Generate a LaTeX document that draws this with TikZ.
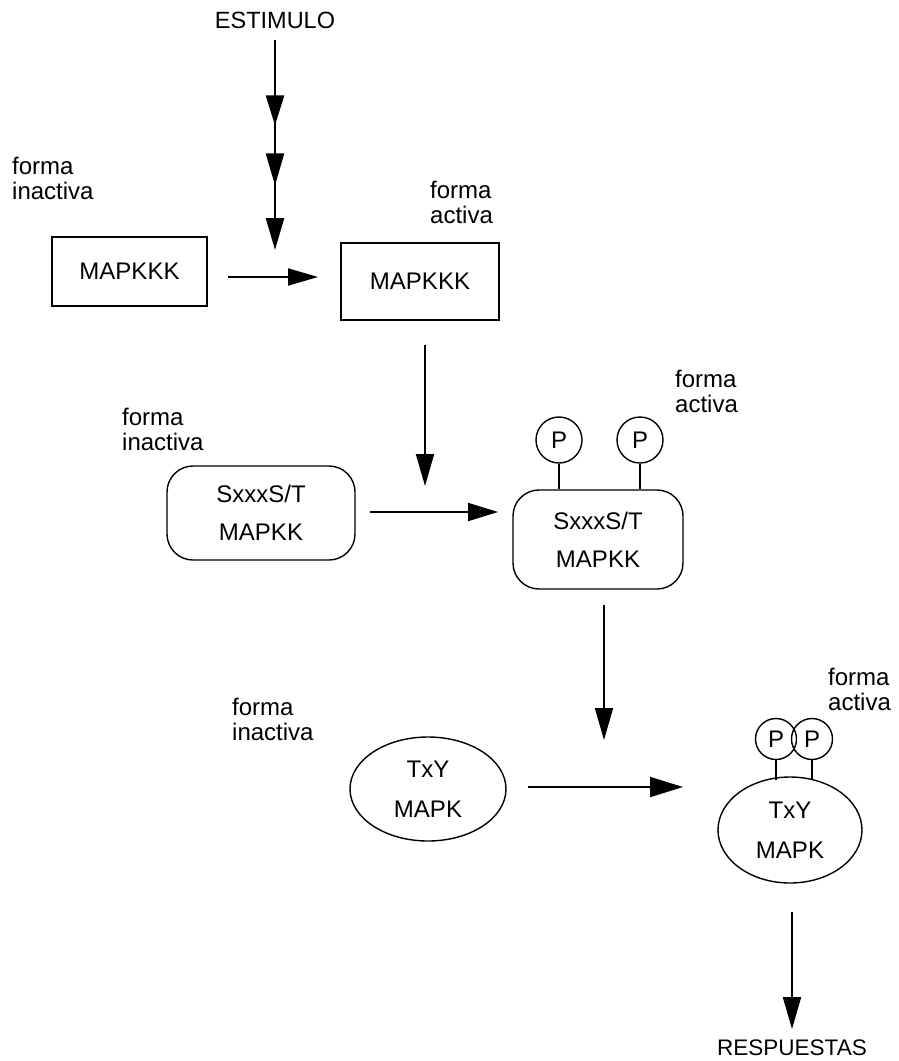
\documentclass[tikz,border=0pt]{standalone}
\usepackage{fontspec}
\setmainfont{Liberation Sans}
\usetikzlibrary{arrows.meta,decorations.markings,shapes.geometric}
\begin{document}
\begin{tikzpicture}[x=1pt,y=-1pt,
  lbl/.style={inner sep=0pt, align=left, anchor=north west, font=\fontsize{24}{25}\selectfont},
  onebox/.style={draw, line width=1.4pt, inner sep=0pt, align=center, font=\fontsize{24}{38}\selectfont},
  twobox/.style={onebox, rounded corners=26pt},
  oval/.style={onebox, ellipse, font=\fontsize{24}{40}\selectfont},
  pcirc/.style={draw, circle, line width=1.4pt, inner sep=0pt, font=\fontsize{24}{26}\selectfont},
  stem/.style={line width=1.4pt},
  arr/.style={line width=2pt, -{Triangle[length=32pt,width=18pt]}},
  midtip/.style={decoration={markings,
      mark=at position 85pt with {\arrow{Triangle[length=30pt,width=18pt]}},
      mark=at position 145pt with {\arrow{Triangle[length=32pt,width=18pt]}}},
      postaction={decorate}}
]
\useasboundingbox (0,0) rectangle (898,1061);

% top
\node[inner sep=0pt, anchor=base, font=\fontsize{23.5}{25}\selectfont] (est) at (275,28) {ESTIMULO};
\coordinate (t1) at (275,250);
\draw[arr, line width=2.4pt, midtip] ([yshift=-12pt]est.south) -- (t1);

% row 1
\node[lbl] (l1) at (12,157) {forma\\inactiva};
\node[lbl] (r1) at (430,181) {forma\\activa};
\node[onebox, minimum width=155pt, minimum height=69pt] (b1) at (129.5,271.5) {MAPKKK};
\node[onebox, minimum width=158pt, minimum height=77pt] (b2) at (420,281.5) {MAPKKK};
\coordinate (h1s) at (228,277);
\coordinate (h1e) at (318,277);
\draw[arr, -{Triangle[length=30pt,width=17pt]}] (h1s) -- (h1e);

% row 2
\coordinate (d1s) at (425,345);
\coordinate (d1e) at (425,486);
\draw[arr] (d1s) -- (d1e);
\node[lbl] (l2) at (122,408) {forma\\inactiva};
\node[lbl] (r2) at (675,370) {forma\\activa};
\node[twobox, minimum width=188pt, minimum height=94pt] (k1) at (261,513) {SxxxS/T\\MAPKK};
\node[twobox, minimum width=170pt, minimum height=99pt] (k2) at (598,539.5) {SxxxS/T\\MAPKK};
\coordinate (h2s) at (370,512);
\coordinate (h2e) at (498,512);
\draw[arr, -{Triangle[length=30pt,width=18pt]}] (h2s) -- (h2e);
\node[pcirc, minimum size=46pt] (p1) at (559,440) {P};
\node[pcirc, minimum size=46pt] (p2) at (640,440) {P};
\draw[stem] (p1.south) -- (p1.south |- k2.north);
\draw[stem] (p2.south) -- (p2.south |- k2.north);

% row 3
\coordinate (d2s) at (604,605);
\coordinate (d2e) at (604,740);
\draw[arr] (d2s) -- (d2e);
\node[lbl] (l3) at (232,698) {forma\\inactiva};
\node[lbl] (r3) at (828,668) {forma\\activa};
\node[oval, minimum width=156pt, minimum height=104pt] (e1) at (428,789) {TxY\\MAPK};
\node[oval, minimum width=144pt, minimum height=106pt] (e2) at (790,830) {TxY\\MAPK};
\coordinate (h3s) at (528,787);
\coordinate (h3e) at (683,787);
\draw[arr, -{Triangle[length=33pt,width=20pt]}] (h3s) -- (h3e);
\node[pcirc, minimum size=41pt] (p3) at (776,739) {P};
\node[pcirc, minimum size=41pt] (p4) at (812,739) {P};
\draw[stem] (p3.south) -- ++(0,19.5);
\draw[stem] (p4.south) -- ++(0,20);

% bottom
\coordinate (d3s) at (792,912);
\node[inner sep=0pt, anchor=base, font=\fontsize{22.5}{25}\selectfont] (resp) at (792,1055) {RESPUESTAS};
\draw[arr] (d3s) -- ([yshift=10pt]resp.north);
\end{tikzpicture}
\end{document}
